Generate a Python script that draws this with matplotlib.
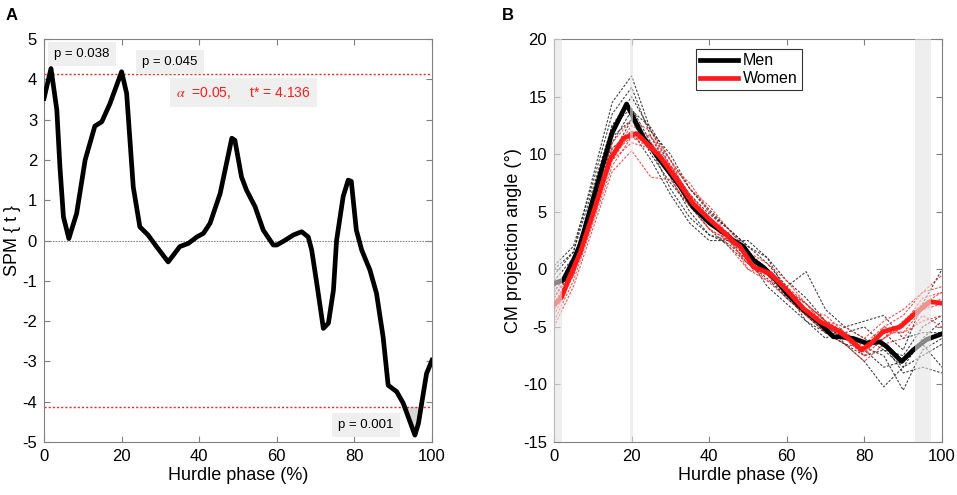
import matplotlib
matplotlib.use("Agg")
import matplotlib.pyplot as plt
import numpy as np

plt.rcParams['font.family'] = ['Liberation Sans', 'DejaVu Sans']
plt.rcParams['mathtext.fontset'] = 'stix'
plt.rcParams['axes.unicode_minus'] = False

# ---------------- Panel A data (SPM{t}) ----------------
spm_x = [0, 1.8, 3.3, 4.1, 5.0, 6.4, 8.4, 10.6, 13.1, 14.9, 17.0, 20.0, 21.3, 23.0, 24.7, 26.8,
         29.0, 32.0, 35.0, 37.2, 39.4, 41.1, 42.8, 45.4, 48.4, 49.2, 50.9, 52.2, 54.4, 56.5,
         59.1, 60.0, 62.0, 64.3, 66.4, 68.1, 69.0, 70.3, 72.0, 73.3, 74.6, 75.4, 77.1, 78.4,
         79.2, 80.5, 81.9, 84.0, 85.7, 87.4, 88.7, 90.9, 92.6, 95.6, 96.5, 98.6, 100.0]
spm_t = [3.53, 4.27, 3.24, 1.83, 0.59, 0.05, 0.67, 2.0, 2.84, 2.95, 3.40, 4.19, 3.65, 1.33, 0.34, 0.14,
         -0.15, -0.53, -0.15, -0.07, 0.09, 0.18, 0.43, 1.17, 2.54, 2.49, 1.58, 1.25, 0.84, 0.26,
         -0.11, -0.11, 0.0, 0.14, 0.22, 0.09, -0.24, -1.06, -2.18, -2.05, -1.23, 0.0, 1.09, 1.50,
         1.47, 0.26, -0.24, -0.73, -1.31, -2.39, -3.59, -3.75, -4.04, -4.83, -4.54, -3.30, -2.97]
t_star = 4.136
alpha_level = 0.05
p_labels = ["p = 0.038", "p = 0.045", "p = 0.001"]

# ---------------- Panel B data (CM projection angle) ----------------
men_mean_x = [0, 2.4, 5.0, 6.7, 11.0, 14.9, 18.7, 23.0, 27.3, 32.5, 35.9, 40.2, 44.5, 46.2, 48.8,
              51.4, 53.9, 56.5, 60.0, 64.3, 68.6, 72.0, 73.7, 77.1, 80.5, 84.0, 85.7, 89.6, 92.6, 96.0, 100.0]
men_mean_y = [-1.22, -0.93, 0.8, 2.1, 7.2, 11.8, 14.36, 11.5, 9.5, 7.2, 5.4, 4.0, 3.0, 2.5, 2.0,
              0.8, 0.2, -0.64, -2.1, -3.5, -4.7, -5.86, -5.86, -6.0, -6.4, -6.3, -6.7, -8.0, -7.0, -6.1, -5.6]
women_mean_x = [0, 2.0, 4.1, 6.7, 10.6, 14.4, 17.9, 21.3, 27.3, 31.6, 35.9, 40.2, 44.5, 46.2, 47.9,
                51.4, 55.7, 60.0, 64.3, 68.6, 72.9, 76.3, 79.3, 81.8, 84.9, 89.2, 92.6, 96.9, 100.0]
women_mean_y = [-3.1, -2.4, -0.6, 1.4, 5.4, 9.5, 11.4, 11.8, 9.8, 7.8, 5.7, 4.3, 3.0, 2.4, 2.0,
                0.2, -0.35, -1.8, -3.4, -4.55, -5.27, -6.1, -7.0, -6.4, -5.4, -5.0, -3.97, -2.8, -2.95]

subj_x = [0, 5, 10, 15, 20, 25, 30, 35, 40, 45, 50, 55, 60, 65, 70, 75, 80, 85, 90, 95, 100]
men_subjects = [
    [-0.5, 1.5, 8.0, 14.5, 16.8, 12.0, 9.0, 6.5, 4.8, 3.5, 2.0, 1.0, -1.0, -2.5, -4.5, -5.5, -5.0, -6.5, -9.0, -8.5, -9.0],
    [0.3, 2.0, 7.5, 13.5, 15.8, 11.5, 8.5, 5.5, 3.5, 2.0, 0.5, -0.8, -2.5, -4.0, -5.5, -6.5, -6.8, -7.5, -10.5, -7.0, -6.0],
    [-2.0, 0.5, 6.5, 12.5, 15.0, 12.0, 10.0, 7.0, 5.0, 3.5, 2.0, 0.5, -1.5, -0.2, -3.5, -5.0, -6.0, -7.0, -7.5, -5.0, -4.0],
    [-1.5, 0.0, 5.0, 11.0, 13.8, 12.3, 9.5, 7.0, 5.2, 3.5, 1.5, -0.5, -2.5, -4.0, -5.5, -6.5, -8.0, -10.2, -8.5, -6.0, -4.5],
    [-3.0, -0.5, 4.5, 10.0, 13.0, 10.5, 7.0, 4.5, 3.0, 2.5, 2.5, 1.0, -2.0, -4.5, -6.0, -5.0, -4.5, -4.0, -6.0, -5.5, -5.5],
    [-1.0, 1.0, 5.5, 10.5, 12.0, 9.5, 6.5, 4.0, 2.5, 2.5, 1.0, -1.5, -3.0, -4.5, -5.5, -6.0, -6.5, -5.5, -7.0, -3.0, 0.0],
    [0.0, 1.5, 7.0, 12.5, 14.0, 11.0, 8.0, 5.0, 3.0, 2.2, 0.8, -0.5, -1.8, -3.0, -4.5, -6.5, -7.5, -7.0, -8.5, -7.5, -6.5],
    [-2.5, 0.0, 5.5, 11.5, 13.0, 10.0, 7.5, 5.5, 4.5, 3.0, 1.5, 0.0, -2.0, -3.5, -5.0, -6.0, -7.0, -8.5, -8.0, -6.5, -8.5],
]
women_subjects = [
    [-2.0, 1.0, 6.0, 11.0, 13.0, 12.0, 9.5, 7.0, 5.5, 3.5, 1.5, 0.5, -1.0, -3.0, -4.5, -5.5, -6.5, -5.0, -4.0, -2.0, -0.5],
    [-3.5, -0.5, 4.5, 10.0, 12.5, 11.5, 9.0, 6.5, 4.5, 3.0, 1.0, -0.5, -2.0, -4.0, -5.0, -6.0, -7.5, -6.0, -5.0, -3.5, -3.0],
    [-4.5, -1.0, 4.0, 9.0, 11.5, 10.5, 8.5, 6.0, 4.0, 2.5, 0.5, -1.0, -2.5, -4.0, -5.5, -6.5, -8.0, -6.5, -6.0, -4.0, -5.0],
    [-2.5, 0.5, 5.5, 10.5, 12.0, 11.0, 9.0, 7.5, 5.0, 3.0, 0.0, -1.0, -1.5, -3.5, -4.5, -5.0, -6.0, -4.5, -3.5, -2.0, -1.5],
    [-5.0, -1.5, 3.5, 8.5, 10.3, 8.0, 7.8, 5.5, 3.5, 2.5, 0.5, 0.0, -1.5, -3.0, -4.5, -6.0, -7.5, -5.0, -5.5, -3.5, -2.5],
    [-3.0, 0.0, 5.0, 10.0, 11.5, 11.0, 8.5, 5.5, 4.0, 3.2, 1.0, 0.0, -2.0, -3.8, -5.0, -5.5, -6.8, -6.0, -4.5, -3.0, -2.0],
    [-2.5, 0.5, 5.0, 9.5, 11.0, 10.5, 9.0, 6.5, 4.5, 2.0, 0.0, -0.5, -1.8, -3.0, -5.0, -5.5, -7.2, -5.5, -5.5, -4.5, -4.0],
    [-4.0, -0.5, 4.5, 9.5, 12.0, 11.5, 9.5, 6.0, 3.5, 2.5, 1.5, -0.5, -2.0, -3.5, -4.0, -5.5, -7.0, -6.0, -4.8, -2.5, -2.0],
]
sig_regions = [(0, 2.1), (19.6, 20.3), (93.0, 97.2)]
legend_labels = ["Men", "Women"]

# ---------------- Figure ----------------
fig = plt.figure(figsize=(9.57, 4.95), dpi=100)
axA = fig.add_axes([0.046, 0.107, 0.4054, 0.814])
axB = fig.add_axes([0.5789, 0.107, 0.4054, 0.814])

spine_col = '#808080'
for ax in (axA, axB):
    for s in ax.spines.values():
        s.set_color(spine_col)
        s.set_linewidth(0.8)
    ax.tick_params(direction='in', top=True, right=True, length=4, width=0.8,
                   color=spine_col, labelsize=12, labelcolor='black', pad=5)
    ax.set_xlim(0, 100)
    ax.set_xticks([0, 20, 40, 60, 80, 100])
    ax.set_xlabel("Hurdle phase (%)", fontsize=13, labelpad=2)

# Panel A
sx = np.array(spm_x)
st = np.array(spm_t)
axA.axhline(0, color='#888888', lw=0.8, ls=(0, (1.5, 1)), zorder=1)
axA.axhline(t_star, color='#ff2020', lw=1.0, ls=(0, (1.5, 1.5)), zorder=2)
axA.axhline(-t_star, color='#ff2020', lw=1.0, ls=(0, (1.5, 1.5)), zorder=2)
axA.fill_between(sx, st, -t_star, where=st < -t_star, interpolate=True, color='#d8d8d8', zorder=1.5)
axA.fill_between(sx, st, t_star, where=st > t_star, interpolate=True, color='#d8d8d8', zorder=1.5)
axA.plot(sx, st, color='black', lw=3.4, solid_joinstyle='round', zorder=3)
axA.set_ylim(-5, 5)
axA.set_yticks(range(-5, 6))
axA.set_ylabel("SPM { t }", fontsize=13, labelpad=1)

box = dict(boxstyle='square,pad=0.45', facecolor='#efefef', edgecolor='none')
axA.text(9.8, 4.63, p_labels[0], fontsize=9.5, ha='center', va='center', bbox=box, zorder=4)
axA.text(32.5, 4.44, p_labels[1], fontsize=9.5, ha='center', va='center', bbox=box, zorder=4)
axA.text(83.0, -4.57, p_labels[2], fontsize=9.5, ha='center', va='center', bbox=box, zorder=4)
axA.text(51.5, 3.67, r"$\alpha$  =%.2f,     t* = %.3f" % (alpha_level, t_star), fontsize=10,
         color='#ff1a1a', ha='center', va='center', bbox=box, zorder=4)
fig.text(0.006, 0.968, "A", fontsize=12, fontweight='bold', ha='left', va='center')

# Panel B
for ys in men_subjects:
    axB.plot(subj_x, ys, color='#222222', lw=0.8, ls=(0, (2.2, 1.4)), alpha=0.85, zorder=2)
for ys in women_subjects:
    axB.plot(subj_x, ys, color='#ff2a2a', lw=0.8, ls=(0, (2.2, 1.4)), alpha=0.85, zorder=2)
lm, = axB.plot(men_mean_x, men_mean_y, color='black', lw=3.4, zorder=3, label=legend_labels[0])
lw_, = axB.plot(women_mean_x, women_mean_y, color='#ff1a1a', lw=3.4, zorder=3.1, label=legend_labels[1])
for a, b in sig_regions:
    axB.axvspan(a, b, color='#e3e3e3', alpha=0.6, lw=0, zorder=4)
axB.set_ylim(-15, 20)
axB.set_yticks(range(-15, 21, 5))
axB.set_ylabel("CM projection angle (°)", fontsize=13, labelpad=1)
leg = axB.legend(handles=[lm, lw_], loc='upper left', bbox_to_anchor=(0.366, 0.975),
                 fontsize=11.5, fancybox=False, framealpha=1, edgecolor='#333333',
                 handlelength=2.4, handletextpad=0.3, borderpad=0.25, labelspacing=0.2,
                 borderaxespad=0)
leg.get_frame().set_linewidth(0.8)
fig.text(0.524, 0.968, "B", fontsize=12, fontweight='bold', ha='left', va='center')

fig.savefig("out.png", dpi=100)
